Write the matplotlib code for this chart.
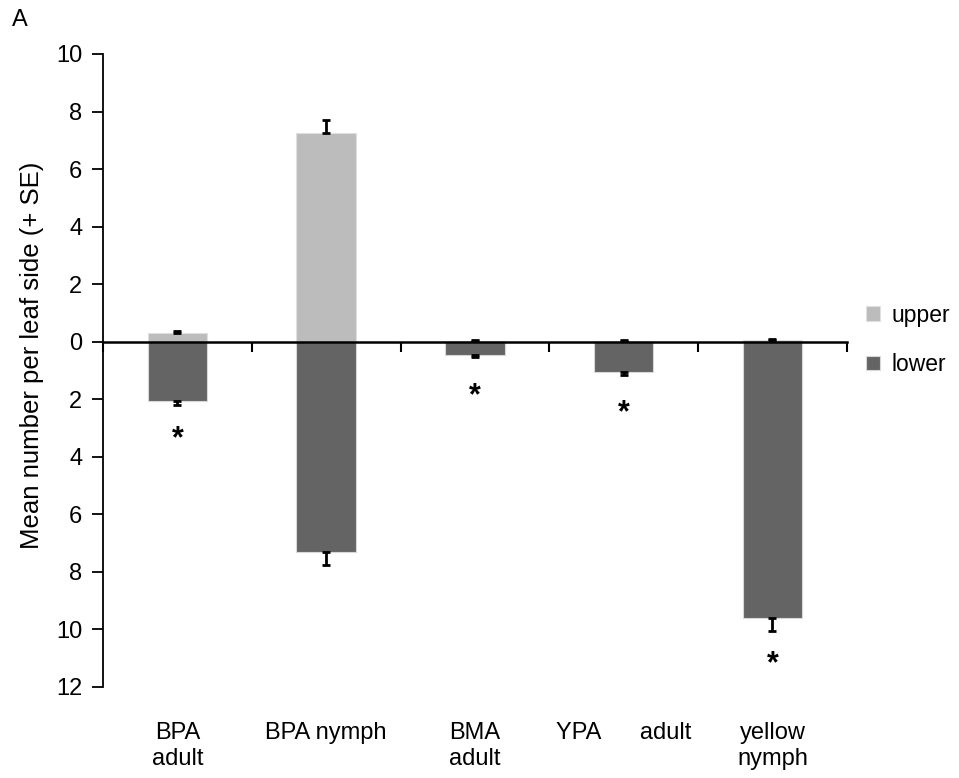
import matplotlib.pyplot as plt
import numpy as np

plt.rcParams['font.family'] = ['Liberation Sans', 'DejaVu Sans']

# data
categories = ['BPA\nadult', 'BPA nymph', 'BMA\nadult', 'YPA      adult', 'yellow\nnymph']
upper = [0.30, 7.25, 0.02, 0.02, 0.05]
upper_se = [0.06, 0.45, 0.03, 0.03, 0.06]
lower = [2.05, 7.30, 0.45, 1.05, 9.60]
lower_se = [0.15, 0.45, 0.08, 0.10, 0.45]
stars = [True, False, True, True, True]
star_y = [3.4, 0, 1.9, 2.5, 11.2]

x = np.arange(len(categories))

fig = plt.figure(figsize=(9.59, 7.78), dpi=100)
ax = fig.add_axes([0.1074, 0.117, 0.7756, 0.8136])

up_col = '#bcbcbc'
low_col = '#646464'
w = 0.4

ax.bar(x, upper, w, color=up_col, edgecolor='#e0e0e0', linewidth=0.8, label='upper', zorder=2)
ax.bar(x, [-v for v in lower], w, color=low_col, edgecolor='#d8d8d8', linewidth=0.8, label='lower', zorder=2)

ax.errorbar(x, upper, yerr=[np.zeros(len(x)), upper_se], fmt='none', ecolor='black',
            elinewidth=2, capsize=3, capthick=2, zorder=3)
ax.errorbar(x, [-v for v in lower], yerr=[lower_se, np.zeros(len(x))], fmt='none', ecolor='black',
            elinewidth=2, capsize=3, capthick=2, zorder=3)

for i in range(len(x)):
    if stars[i]:
        ax.text(x[i], -star_y[i], '*', ha='center', va='center', fontsize=22, fontweight='bold')

ax.set_xlim(-0.5, len(x) - 0.5)
ax.set_ylim(-12, 10)
ax.set_yticks(np.arange(-12, 11, 2))
ax.set_yticklabels([str(abs(t)) for t in range(-12, 11, 2)])
ax.tick_params(axis='y', direction='out', length=8, width=1.3, labelsize=17, pad=7)

ax.spines['top'].set_visible(False)
ax.spines['right'].set_visible(False)
ax.spines['left'].set_linewidth(1.3)
ax.spines['bottom'].set_position(('data', 0))
ax.spines['bottom'].set_linewidth(1.8)
ax.spines['bottom'].set_zorder(4)

# category boundary ticks on the zero line
ax.set_xticks(np.arange(-0.5, len(x), 1.0))
ax.set_xticklabels([])
ax.tick_params(axis='x', direction='out', length=7, width=1.5)

# category labels under the plot
for i, lab in enumerate(categories):
    ax.text(x[i], -13.2, lab, ha='center', va='top', fontsize=17, linespacing=1.25)

ax.set_ylabel('Mean number per leaf side (+ SE)', fontsize=18.5)
ax.yaxis.set_label_coords(-0.079, 0.524)
fig.text(0.012, 0.988, 'A', fontsize=17, va='top', ha='left')

fig.legend(loc='center left', bbox_to_anchor=(0.882, 0.563), frameon=False, fontsize=16.5,
           handlelength=0.6, handleheight=0.6, handletextpad=0.5, labelspacing=1.15)

fig.savefig('out.png', dpi=100)
